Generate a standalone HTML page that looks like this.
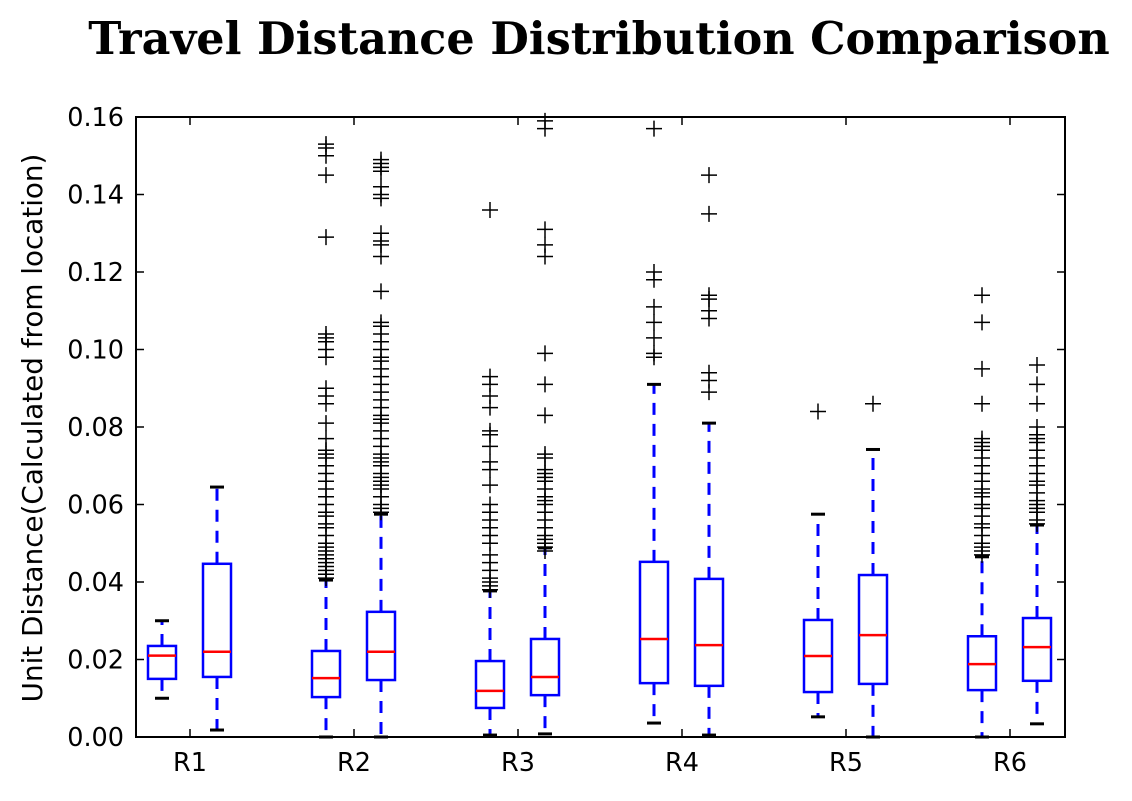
<!DOCTYPE html>
<html><head><meta charset="utf-8"><style>
body{margin:0;background:#fff;width:1132px;height:796px;overflow:hidden}
svg text{font-family:"DejaVu Sans","Liberation Sans",sans-serif}
</style></head><body>
<svg id="chart" width="1132" height="796" xmlns="http://www.w3.org/2000/svg">
<text x="599" y="54" text-anchor="middle" font-weight="bold" font-size="44.5" style="font-family:'DejaVu Serif','Liberation Serif',serif">Travel Distance Distribution Comparison</text>
<text transform="translate(42,428) rotate(-90)" text-anchor="middle" font-size="27.8">Unit Distance(Calculated from location)</text>
<g id="marks"></g>
<rect x="136" y="117" width="929" height="620" fill="none" stroke="#000" stroke-width="2"/>
<g id="axes"></g>
</svg>
<script>
const categories=["R1","R2","R3","R4","R5","R6"];
const q1=[0.015,0.0155,0.0103,0.0147,0.0075,0.0108,0.0139,0.0132,0.0116,0.0137,0.0121,0.0145];
const medians=[0.021,0.022,0.0152,0.022,0.0119,0.0155,0.0253,0.0237,0.0209,0.0263,0.0188,0.0232];
const q3=[0.0235,0.0447,0.0222,0.0323,0.0196,0.0253,0.0452,0.0408,0.0302,0.0418,0.026,0.0307];
const whiskerLow=[0.010,0.0018,0,0,0.0005,0.0008,0.0036,0.0005,0.0052,0,0,0.0034];
const whiskerHigh=[0.030,0.0645,0.0405,0.0575,0.0377,0.0488,0.091,0.081,0.0575,0.0742,0.0465,0.0547];
const outliers=[
[],[],
[0.041,0.042,0.043,0.044,0.045,0.046,0.047,0.048,0.049,0.050,0.052,0.054,0.055,0.057,0.058,0.060,0.062,0.064,0.066,0.068,0.070,0.072,0.073,0.074,0.077,0.081,0.086,0.088,0.090,0.098,0.100,0.102,0.103,0.104,0.129,0.145,0.150,0.152,0.153],
[0.058,0.059,0.060,0.062,0.064,0.065,0.066,0.067,0.068,0.070,0.071,0.072,0.073,0.075,0.077,0.079,0.081,0.082,0.083,0.085,0.087,0.089,0.091,0.093,0.095,0.097,0.098,0.100,0.102,0.104,0.106,0.107,0.115,0.124,0.127,0.128,0.130,0.139,0.140,0.142,0.146,0.147,0.148,0.149],
[0.038,0.039,0.040,0.041,0.043,0.045,0.047,0.050,0.052,0.054,0.056,0.058,0.060,0.065,0.069,0.071,0.075,0.078,0.079,0.085,0.088,0.091,0.093,0.136],
[0.048,0.049,0.050,0.051,0.052,0.054,0.056,0.058,0.060,0.061,0.062,0.064,0.066,0.067,0.068,0.069,0.072,0.073,0.083,0.091,0.099,0.124,0.127,0.131,0.157,0.159],
[0.098,0.099,0.103,0.107,0.111,0.118,0.120,0.157],
[0.089,0.092,0.094,0.108,0.110,0.113,0.114,0.135,0.145],
[0.084],[0.086],
[0.047,0.048,0.049,0.050,0.052,0.054,0.055,0.057,0.059,0.060,0.062,0.063,0.064,0.066,0.068,0.070,0.072,0.074,0.075,0.076,0.077,0.086,0.095,0.107,0.114],
[0.055,0.056,0.058,0.059,0.060,0.061,0.063,0.065,0.066,0.068,0.070,0.072,0.074,0.076,0.077,0.078,0.080,0.086,0.091,0.096]
];
const yTicks=[0,0.02,0.04,0.06,0.08,0.10,0.12,0.14,0.16];
const yTickLabels=["0.00","0.02","0.04","0.06","0.08","0.10","0.12","0.14","0.16"];

const NS="http://www.w3.org/2000/svg";
const y=v=>737-v/0.16*620;
const groupX=i=>190+i*164;
const boxX=j=>groupX(Math.floor(j/2))+(j%2===0?-28:27);
function mk(tag,attrs,parent){const e=document.createElementNS(NS,tag);for(const k in attrs)e.setAttribute(k,attrs[k]);parent.appendChild(e);return e;}
const marks=document.getElementById('marks'),axes=document.getElementById('axes');
for(let j=0;j<q1.length;j++){
  const cx=boxX(j);
  const g=mk('g',{},marks);
  
  
  mk('line',{x1:cx,x2:cx,y1:y(q3[j]),y2:y(whiskerHigh[j]),stroke:'#00f','stroke-width':3,'stroke-dasharray':'12,9'},g);
  mk('line',{x1:cx,x2:cx,y1:y(q1[j]),y2:y(whiskerLow[j]),stroke:'#00f','stroke-width':3,'stroke-dasharray':'12,9'},g);
  mk('line',{x1:cx-7,x2:cx+7,y1:y(whiskerHigh[j]),y2:y(whiskerHigh[j]),stroke:'#000','stroke-width':3},g);
  mk('line',{x1:cx-7,x2:cx+7,y1:y(whiskerLow[j]),y2:y(whiskerLow[j]),stroke:'#000','stroke-width':3},g);
  mk('rect',{x:cx-14,y:y(q3[j]),width:28,height:y(q1[j])-y(q3[j]),fill:'none',stroke:'#00f','stroke-width':2.5},g);
  mk('line',{x1:cx-14,x2:cx+14,y1:y(medians[j]),y2:y(medians[j]),stroke:'#f00','stroke-width':2.5},g);
  for(const v of outliers[j]){
    const p=mk('path',{d:`M${cx-8},${y(v)}h16M${cx},${y(v)-8}v16`,stroke:'#000','stroke-width':1.5,fill:'none'},g);
    
    
  }
}
yTicks.forEach((v,i)=>{
  const yy=y(v);
  mk('line',{x1:136,x2:144,y1:yy,y2:yy,stroke:'#000','stroke-width':1.5},axes);
  mk('line',{x1:1057,x2:1065,y1:yy,y2:yy,stroke:'#000','stroke-width':1.5},axes);
  const t=mk('text',{x:124,y:yy+9,'text-anchor':'end','font-size':25.5},axes);
  t.textContent=yTickLabels[i];
  
  
});
categories.forEach((c,i)=>{
  const xx=groupX(i);
  mk('line',{x1:xx,x2:xx,y1:737,y2:729,stroke:'#000','stroke-width':1.5},axes);
  mk('line',{x1:xx,x2:xx,y1:117,y2:125,stroke:'#000','stroke-width':1.5},axes);
  const t=mk('text',{x:xx,y:771,'text-anchor':'middle','font-size':25.5},axes);
  t.textContent=c;
  
  
});
</script>
</body></html>
